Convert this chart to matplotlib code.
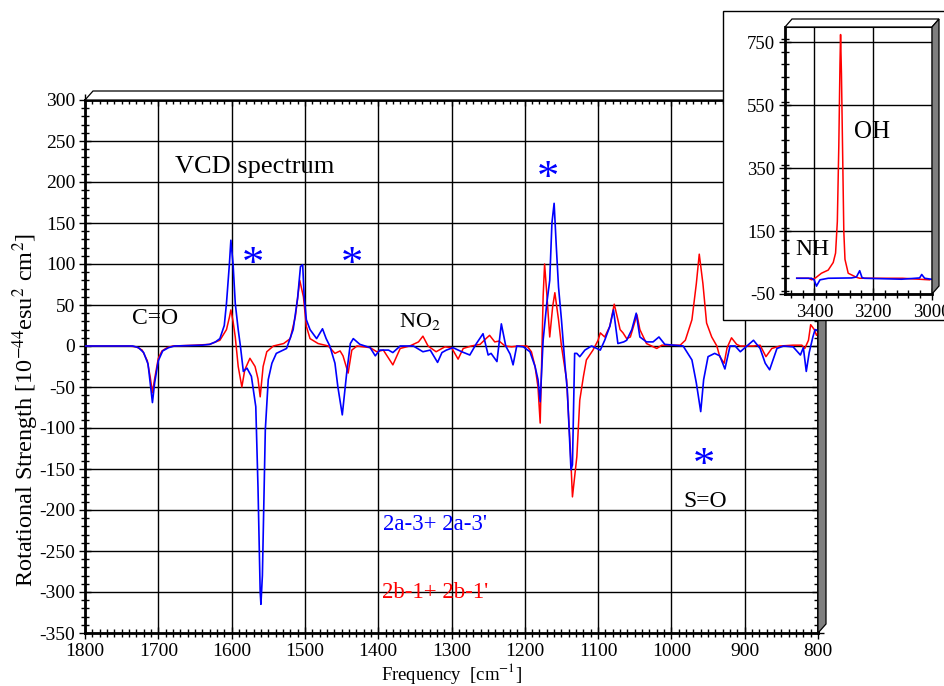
import numpy as np
import matplotlib
matplotlib.use("Agg")
import matplotlib.pyplot as plt
from matplotlib.patches import Polygon, Rectangle
from matplotlib.ticker import MultipleLocator

plt.rcParams["font.family"] = ["Liberation Serif", "DejaVu Serif"]
plt.rcParams["mathtext.fontset"] = "stix"
plt.rcParams["axes.unicode_minus"] = False

# main VCD spectrum (frequency cm-1, strength)
red_freq = [1800, 1740, 1730, 1722, 1715, 1711, 1708, 1705, 1700, 1695, 1688, 1680, 1650, 1630,
            1616, 1607, 1603, 1601, 1598, 1595, 1591, 1586, 1582, 1575, 1568, 1564, 1561, 1557,
            1552, 1543, 1529, 1520, 1513, 1509, 1507, 1502, 1498, 1493, 1482, 1468, 1459, 1452,
            1448, 1441, 1436, 1429, 1411, 1402, 1393, 1380, 1370, 1357, 1345, 1339, 1332, 1321,
            1309, 1300, 1291, 1284, 1273, 1261, 1253, 1248, 1241, 1235, 1227, 1218, 1209, 1197,
            1191, 1186, 1182, 1179, 1177, 1175, 1173, 1170, 1166, 1162, 1159, 1154, 1150, 1143,
            1138, 1135, 1129, 1125, 1120, 1116, 1107, 1100, 1097, 1091, 1084, 1078, 1073, 1070,
            1066, 1061, 1056, 1047, 1043, 1034, 1020, 1013, 988, 981, 972, 966, 962, 957, 952,
            945, 938, 934, 928, 924, 918, 911, 906, 888, 879, 871, 863, 852, 834, 822, 818, 813,
            810, 805, 802, 800]
red_val = [0, 0, -1, -5, -18, -38, -57, -40, -15, -6, -2, 0, 1, 2,
           7, 20, 35, 44, 30, 11, -25, -50, -29, -15, -25, -40, -62, -25,
           -7, 0, 3, 9, 36, 65, 80, 60, 24, 9, 3, 0, -9, -6,
           -12, -33, -5, 0, -2, -7, -5, -23, -3, 0, 5, 12, 0, -7,
           -1, -2, -16, -3, 0, 2, 9, 13, 5, 6, 0, -1, 0, 0,
           -7, -25, -50, -94, -20, 60, 100, 64, 11, 48, 65, 32, 0, -41,
           -123, -184, -135, -66, -37, -17, -5, 7, 16, 11, 24, 51, 32, 20,
           16, 9, 11, 38, 20, 3, -3, 1, 1, 7, 32, 76, 112, 76, 28,
           11, 0, -13, -21, -2, 10, 2, 0, 0, 1, -13, -3, 0, 1, 1, -3, 7,
           26, 20, 13, 16]

blue_freq = [1800, 1735, 1727, 1720, 1714, 1711, 1708, 1705, 1700, 1694, 1686, 1678, 1640, 1630,
             1622, 1616, 1610, 1607, 1603, 1601, 1598, 1595, 1591, 1588, 1584, 1579, 1573, 1567,
             1564, 1561, 1560, 1558, 1554, 1550, 1545, 1539, 1525, 1516, 1510, 1506, 1503, 1501,
             1498, 1493, 1484, 1476, 1471, 1466, 1459, 1455, 1449, 1443, 1438, 1434, 1425, 1411,
             1404, 1398, 1386, 1380, 1370, 1352, 1339, 1329, 1319, 1313, 1307, 1298, 1286, 1275,
             1266, 1257, 1250, 1246, 1238, 1232, 1226, 1220, 1216, 1211, 1202, 1193, 1186, 1182,
             1179, 1175, 1170, 1166, 1163, 1160, 1157, 1154, 1150, 1145, 1142, 1137, 1135, 1132,
             1129, 1125, 1118, 1109, 1097, 1091, 1084, 1079, 1073, 1065, 1061, 1054, 1048, 1043,
             1034, 1025, 1017, 1009, 984, 972, 966, 960, 956, 950, 941, 934, 927, 920, 913, 906,
             897, 888, 879, 872, 866, 856, 847, 834, 824, 820, 816, 812, 807, 804, 800]
blue_val = [0, 0, -2, -8, -22, -45, -69, -45, -18, -6, -2, 0, 1, 2,
            5, 9, 25, 52, 100, 129, 100, 52, 20, 0, -31, -27, -37, -74,
            -172, -300, -315, -280, -102, -41, -21, -9, -3, 20, 58, 97, 99, 60,
            32, 20, 9, 21, 9, 0, -21, -50, -84, -33, 3, 9, 2, -2,
            -12, -5, -5, -8, 0, 0, -7, -5, -20, -8, -5, -2, -7, -11,
            3, 15, -11, -9, -19, 27, 0, -10, -23, 0, -1, -7, -25, -41,
            -68, 7, 52, 80, 150, 174, 121, 72, 32, -25, -54, -151, -145, -9,
            -9, -13, -5, 0, -5, 7, 24, 44, 3, 5, 7, 20, 40, 11,
            5, 5, 11, 2, 0, -17, -45, -80, -41, -13, -9, -12, -28, 0, 0, -7,
            0, 7, -3, -21, -29, -3, 0, -1, -11, -2, -31, -8, 11, 20, 19]

# inset: OH / NH stretching region
inset_red_freq = [3460, 3420, 3409, 3395, 3376, 3353, 3336, 3328, 3322, 3317, 3313, 3311,
                  3308, 3304, 3300, 3296, 3285, 3257, 3246, 3100, 3008]
inset_red_val = [0, 0, -5, 2, 16, 26, 50, 80, 180, 420, 680, 774,
                 650, 400, 150, 60, 16, 3, 0, 0, -5]
inset_blue_freq = [3460, 3410, 3401, 3393, 3381, 3353, 3274, 3257, 3246, 3238, 3230, 3104,
                   3071, 3042, 3035, 3025, 3003]
inset_blue_val = [0, 0, -5, -25, -5, 0, 1, 4, 24, 2, 0, -3, -1, 1, 12, 0, -3]

RED = "#ff0000"
BLUE = "#0000ff"


def add_box_3d(ax, dx, dy):
    # fake 3D frame: white lid on top, grey wall on the right
    top = Polygon([(0, 1), (dx, 1 + dy), (1 + dx, 1 + dy), (1, 1)], closed=True,
                  transform=ax.transAxes, clip_on=False, facecolor="white",
                  edgecolor="black", lw=0.9, zorder=5)
    side = Polygon([(1, 0), (1 + dx, dy), (1 + dx, 1 + dy), (1, 1)], closed=True,
                   transform=ax.transAxes, clip_on=False, facecolor="#7f7f7f",
                   edgecolor="black", lw=0.9, zorder=5)
    ax.add_patch(top)
    ax.add_patch(side)


fig = plt.figure(figsize=(9.45, 6.86), dpi=100)

# ---- main panel ----
ax = fig.add_axes([85 / 945, 53 / 686, 733 / 945, 533 / 686])
ax.set_zorder(0)
ax.plot(red_freq, red_val, color=RED, lw=1.1, zorder=3)
ax.plot(blue_freq, blue_val, color=BLUE, lw=1.2, zorder=4)
ax.set_xlim(1800, 800)
ax.set_ylim(-350, 300)
ax.xaxis.set_major_locator(MultipleLocator(100))
ax.xaxis.set_minor_locator(MultipleLocator(10))
ax.yaxis.set_major_locator(MultipleLocator(50))
ax.yaxis.set_minor_locator(MultipleLocator(10))
ax.tick_params(which="both", direction="inout", top=True, right=True,
               width=1, labelsize=14, pad=3)
ax.tick_params(which="major", length=8)
ax.tick_params(which="minor", length=6)
ax.grid(True, which="major", color="black", lw=1)
for sp in ax.spines.values():
    sp.set_linewidth(2)
add_box_3d(ax, 8 / 733, 9 / 533)

ax.set_xlabel(r"Frequency  [cm$^{-1}$]", fontsize=13.5, labelpad=1)
ax.set_ylabel(r"Rotational Strength [10$^{-44}$esu$^{2}$ cm$^{2}$]", fontsize=17.5)
ax.yaxis.set_label_coords(-0.06, 0.418)

ax.text(1568, 218, "VCD spectrum", fontsize=19, ha="center", va="center")
ax.text(1704, 34, "C=O", fontsize=17, ha="center", va="center")
ax.text(1343, 30, r"NO$_2$", fontsize=16, ha="center", va="center")
ax.text(954, -190, "S=O", fontsize=17, ha="center", va="center")
ax.text(1322, -218, "2a-3+ 2a-3'", fontsize=16.5, color=BLUE, ha="center", va="center")
ax.text(1322, -300, "2b-1+ 2b-1'", fontsize=16.5, color=RED, ha="center", va="center")
for fx, fy in [(1571, 99), (1436, 99), (1168, 204), (955, -146)]:
    ax.text(fx, fy, "*", fontsize=32, color=BLUE, ha="center", va="center")

# ---- white box holding the inset ----
box = Rectangle((723 / 945, 366 / 686), 230 / 945, 309 / 686, transform=fig.transFigure,
                facecolor="white", edgecolor="black", lw=1, zorder=1)
fig.add_artist(box)

# ---- inset ----
axi = fig.add_axes([785 / 945, 392 / 686, 147 / 945, 267 / 686])
axi.set_zorder(2)
axi.plot(inset_red_freq, inset_red_val, color=RED, lw=1.1, zorder=3)
axi.plot(inset_blue_freq, inset_blue_val, color=BLUE, lw=1.2, zorder=4)
axi.set_xlim(3500, 3000)
axi.set_ylim(-50, 798)
axi.set_xticks([3400, 3200, 3000])
axi.set_yticks([-50, 150, 350, 550, 750])
axi.xaxis.set_minor_locator(MultipleLocator(40))
axi.yaxis.set_minor_locator(MultipleLocator(40))
axi.tick_params(which="both", direction="inout", width=1, labelsize=13.5, pad=3)
axi.tick_params(which="major", length=8)
axi.tick_params(which="minor", length=6)
axi.grid(True, which="major", color="black", lw=1)
axi.spines["left"].set_linewidth(2)
axi.spines["bottom"].set_linewidth(2)
axi.text(3205, 464, "OH", fontsize=18, ha="center", va="center")
axi.text(3408, 90, "NH", fontsize=17, ha="center", va="center")
add_box_3d(axi, 7 / 147, 8 / 267)

fig.savefig("out.png", dpi=100)
